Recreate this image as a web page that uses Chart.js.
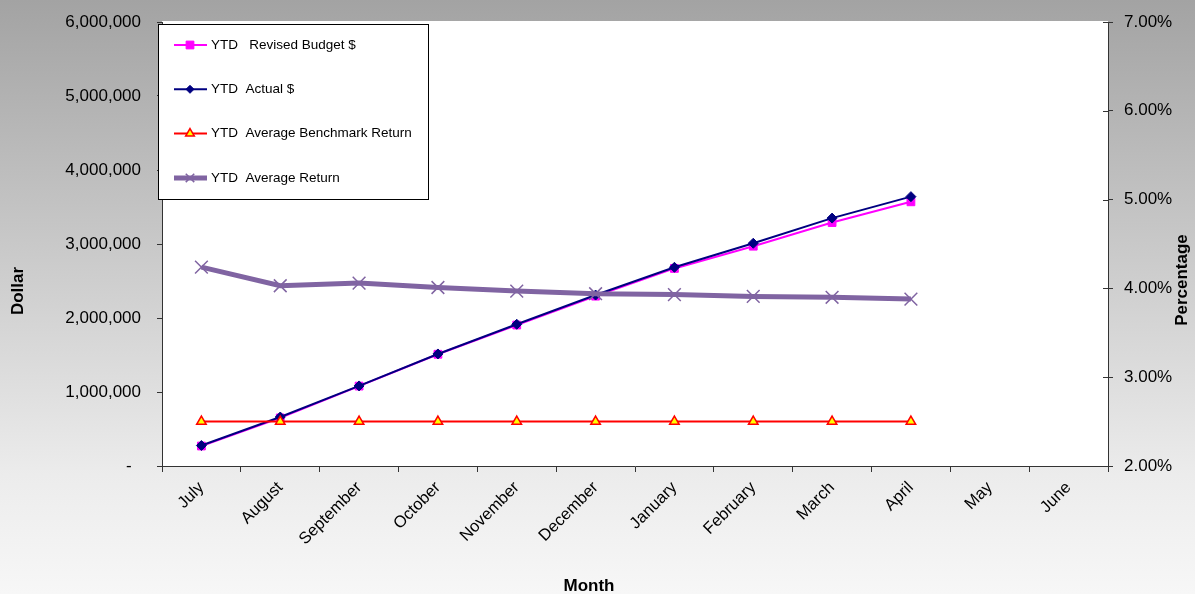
<!DOCTYPE html>
<html>
<head>
<meta charset="utf-8">
<script src="https://cdn.jsdelivr.net/npm/chart.js@4"></script>
<style>
  html, body { margin: 0; padding: 0; }
  #wrap { width: 1195px; height: 594px; position: relative; }
</style>
</head>
<body>
<div id="wrap"><canvas id="ytdChart"></canvas></div>
<script>
const FONT = 'Arial, "Liberation Sans", sans-serif';

const months = ["July", "August", "September", "October", "November", "December",
                "January", "February", "March", "April", "May", "June"];
const revisedBudget = [270000, 650000, 1080000, 1510000, 1905000, 2295000, 2670000, 2970000, 3290000, 3570000, null, null];
const actual = [277000, 662000, 1082000, 1514000, 1915000, 2310000, 2685000, 3010000, 3350000, 3640000, null, null];
const benchmarkReturn = [2.5, 2.5, 2.5, 2.5, 2.5, 2.5, 2.5, 2.5, 2.5, 2.5, null, null];
const averageReturn = [4.24, 4.03, 4.06, 4.01, 3.97, 3.94, 3.93, 3.91, 3.90, 3.88, null, null];

const dollarTicks = [0, 1000000, 2000000, 3000000, 4000000, 5000000, 6000000];
const percentTicks = [2, 3, 4, 5, 6, 7];

Chart.defaults.font.family = FONT;
Chart.defaults.color = '#000';

// grey gradient behind everything, white plot area
const backdrop = {
    id: 'backdrop',
    beforeDraw(chart) {
        const { ctx, width, height, chartArea: a } = chart;
        ctx.save();
        const g = ctx.createLinearGradient(0, 0, 0, height);
        g.addColorStop(0, '#a3a3a3');
        g.addColorStop(0.8, '#ececec');
        g.addColorStop(1, '#f7f7f7');
        ctx.fillStyle = g;
        ctx.fillRect(0, 0, width, height);
        ctx.fillStyle = '#ffffff';
        ctx.fillRect(a.left, a.top - 1, a.right - a.left, a.bottom - a.top + 1);
        ctx.restore();
    }
};

// small inward tick marks on the right axis (the original's cross ticks)
const crossTicks = {
    id: 'crossTicks',
    afterDraw(chart) {
        const s = chart.scales.y1, ctx = chart.ctx;
        ctx.save();
        ctx.strokeStyle = '#333';
        ctx.lineWidth = 1;
        s.ticks.forEach(t => {
            const y = Math.round(s.getPixelForValue(t.value)) + 0.5;
            ctx.beginPath();
            ctx.moveTo(s.left - 5, y);
            ctx.lineTo(s.left, y);
            ctx.stroke();
        });
        ctx.restore();
    }
};

// axis titles placed like the original (not centred on the scales)
const axisTitles = {
    id: 'axisTitles',
    afterDraw(chart) {
        const ctx = chart.ctx;
        ctx.save();
        ctx.fillStyle = '#000';
        ctx.font = 'bold 17px ' + FONT;
        ctx.textAlign = 'center';
        ctx.textBaseline = 'middle';
        ctx.fillText('Month', 589, 586);
        ctx.translate(18, 291);
        ctx.rotate(-Math.PI / 2);
        ctx.fillText('Dollar', 0, 0);
        ctx.restore();
        ctx.save();
        ctx.fillStyle = '#000';
        ctx.font = 'bold 17px ' + FONT;
        ctx.textAlign = 'center';
        ctx.textBaseline = 'middle';
        ctx.translate(1182, 280);
        ctx.rotate(-Math.PI / 2);
        ctx.fillText('Percentage', 0, 0);
        ctx.restore();
    }
};

// boxed legend inside the top-left of the plot
const boxLegend = {
    id: 'boxLegend',
    afterDraw(chart) {
        const { ctx, chartArea: a } = chart;
        const x0 = a.left - 4, y0 = a.top + 2;
        ctx.save();
        ctx.fillStyle = '#fff';
        ctx.fillRect(x0, y0, 270, 175);
        ctx.strokeStyle = '#000';
        ctx.lineWidth = 1;
        ctx.strokeRect(x0 + 0.5, y0 + 0.5, 270, 175);
        chart.data.datasets.forEach((ds, i) => {
            const y = y0 + 21 + i * 44.3;
            ctx.strokeStyle = ds.borderColor;
            ctx.lineWidth = ds.borderWidth;
            ctx.beginPath();
            ctx.moveTo(x0 + 16, y);
            ctx.lineTo(x0 + 49, y);
            ctx.stroke();
            ctx.fillStyle = ds.pointBackgroundColor;
            ctx.strokeStyle = ds.pointBorderColor;
            ctx.lineWidth = ds.pointBorderWidth;
            Chart.helpers.drawPoint(ctx, {
                pointStyle: ds.pointStyle,
                radius: ds.legendRadius,
                borderWidth: ds.pointBorderWidth,
                rotation: 0
            }, x0 + 32, y);
            ctx.fillStyle = '#000';
            ctx.font = '13.5px ' + FONT;
            ctx.textAlign = 'left';
            ctx.textBaseline = 'middle';
            ctx.fillText(ds.label, x0 + 53, y);
        });
        ctx.restore();
    }
};

new Chart(document.getElementById('ytdChart'), {
    type: 'line',
    data: {
        labels: months,
        datasets: [{
            label: 'YTD   Revised Budget $',
            data: revisedBudget,
            yAxisID: 'y',
            borderColor: '#ff00ff',
            borderWidth: 2,
            pointStyle: 'rect',
            pointRadius: 5.5,
            legendRadius: 5.5,
            pointBackgroundColor: '#ff00ff',
            pointBorderColor: '#ff00ff',
            pointBorderWidth: 1,
            tension: 0,
            order: 4
        }, {
            label: 'YTD  Actual $',
            data: actual,
            yAxisID: 'y',
            borderColor: '#000080',
            borderWidth: 2,
            pointStyle: 'rectRot',
            pointRadius: 5,
            legendRadius: 4,
            pointBackgroundColor: '#000080',
            pointBorderColor: '#000080',
            pointBorderWidth: 1,
            tension: 0,
            order: 3
        }, {
            label: 'YTD  Average Benchmark Return',
            data: benchmarkReturn,
            yAxisID: 'y1',
            borderColor: '#ff0000',
            borderWidth: 2,
            pointStyle: 'triangle',
            pointRadius: 5.5,
            legendRadius: 5,
            pointBackgroundColor: '#ffff00',
            pointBorderColor: '#ff0000',
            pointBorderWidth: 1.5,
            tension: 0,
            order: 2
        }, {
            label: 'YTD  Average Return',
            data: averageReturn,
            yAxisID: 'y1',
            borderColor: '#8064a2',
            borderWidth: 5,
            pointStyle: 'crossRot',
            pointRadius: 9,
            legendRadius: 6,
            pointBackgroundColor: '#8064a2',
            pointBorderColor: '#8064a2',
            pointBorderWidth: 1.5,
            tension: 0,
            order: 1
        }]
    },
    options: {
        responsive: true,
        maintainAspectRatio: false,
        animation: false,
        layout: { padding: { top: 22, left: 0, right: 0, bottom: 0 } },
        plugins: {
            legend: { display: false },
            tooltip: { enabled: false }
        },
        scales: {
            x: {
                offset: true,
                grid: { display: true, drawOnChartArea: false, offset: true, tickLength: 6, color: '#333' },
                border: { color: '#333', width: 1 },
                ticks: { minRotation: 45, maxRotation: 45, autoSkip: false, padding: 6, font: { size: 16.5 } },
                afterFit(s) { s.height = 128; s.paddingLeft = 0; s.paddingRight = 0; }
            },
            y: {
                position: 'left',
                min: 0,
                max: 6000000,
                afterBuildTicks(s) { s.ticks = dollarTicks.map(v => ({ value: v })); },
                grid: { display: true, drawOnChartArea: false, tickLength: 5, color: '#333' },
                border: { color: '#333', width: 1 },
                ticks: {
                    padding: 16,
                    font: { size: 17 },
                    callback: v => v === 0 ? '-  ' : v.toLocaleString('en-US')
                },
                afterFit(s) { s.width = 162; s.paddingTop = 0; s.paddingBottom = 0; }
            },
            y1: {
                position: 'right',
                min: 2,
                max: 7,
                afterBuildTicks(s) { s.ticks = percentTicks.map(v => ({ value: v })); },
                grid: { display: true, drawOnChartArea: false, tickLength: 5, color: '#333' },
                border: { color: '#333', width: 1 },
                ticks: {
                    padding: 11,
                    font: { size: 17 },
                    callback: v => v.toFixed(2) + '%'
                },
                afterFit(s) { s.width = 87; s.paddingTop = 0; s.paddingBottom = 0; }
            }
        }
    },
    plugins: [backdrop, crossTicks, axisTitles, boxLegend]
});
</script>
</body>
</html>
